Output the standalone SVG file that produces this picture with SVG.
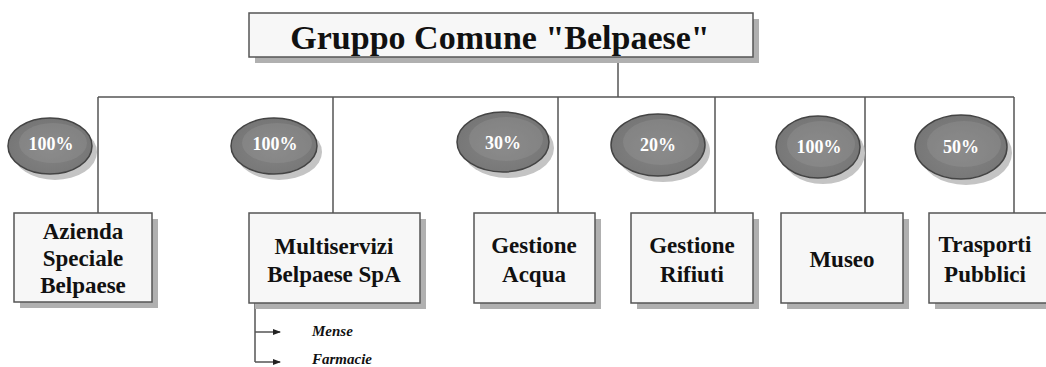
<svg xmlns="http://www.w3.org/2000/svg" width="1046" height="367" viewBox="0 0 1046 367">
<style>
.box{fill:#f7f7f7;stroke:#555;stroke-width:1.5}
.sh{fill:#b0b0b0}
.lbl{font-family:"Liberation Serif","Times New Roman",serif;font-weight:bold;font-size:23px;fill:#111;text-anchor:middle}
.pct{font-family:"Liberation Serif","Times New Roman",serif;font-weight:bold;font-size:18px;fill:#fff;text-anchor:middle}
.sub{font-family:"Liberation Serif","Times New Roman",serif;font-weight:bold;font-style:italic;font-size:15px;fill:#111}
.ln{stroke:#555;stroke-width:1.5;fill:none}
.ell{fill:url(#eg);stroke:#444;stroke-width:1.5}
.esh{fill:#c4c4c4}
.hl{fill:#999}
</style>
<defs>
<radialGradient id="eg" cx="0.5" cy="0.55" r="0.6">
<stop offset="0" stop-color="#858585"/>
<stop offset="1" stop-color="#747474"/>
</radialGradient>
<marker id="ar" markerWidth="8" markerHeight="8" refX="7" refY="4" orient="auto" markerUnits="userSpaceOnUse">
<path d="M0,1 L8,4 L0,7 Z" fill="#222"/>
</marker>
</defs>

<g id="connectors">
<line class="ln" x1="618" y1="57" x2="618" y2="97"/>
<line class="ln" x1="98" y1="97" x2="1014" y2="97"/>
<line class="ln" x1="98" y1="97" x2="98" y2="213"/>
<line class="ln" x1="333" y1="97" x2="333" y2="213"/>
<line class="ln" x1="558" y1="97" x2="558" y2="213"/>
<line class="ln" x1="715" y1="97" x2="715" y2="213"/>
<line class="ln" x1="865" y1="97" x2="865" y2="213"/>
<line class="ln" x1="1014" y1="97" x2="1014" y2="213"/>
<line class="ln" x1="255" y1="303" x2="255" y2="362"/>
<line class="ln" x1="255" y1="332" x2="280" y2="332" marker-end="url(#ar)"/>
<line class="ln" x1="255" y1="362" x2="280" y2="362" marker-end="url(#ar)"/>
</g>

<g id="title">
<rect class="sh" x="255" y="19" width="504" height="44"/>
<rect class="box" x="249" y="13" width="504" height="44"/>
<text class="lbl" x="500" y="49" style="font-size:34px">Gruppo Comune "Belpaese"</text>
</g>

<g id="p1">
<ellipse class="esh" cx="55" cy="152" rx="42" ry="28"/>
<ellipse class="ell" cx="50" cy="146" rx="42" ry="28"/>
<ellipse class="hl" cx="53" cy="143" rx="34" ry="20" opacity="0.35"/>
<text class="pct" x="51" y="150">100%</text>
</g>
<g id="p2">
<ellipse class="esh" cx="279" cy="152" rx="43" ry="28"/>
<ellipse class="ell" cx="274" cy="146" rx="43" ry="28"/>
<ellipse class="hl" cx="277" cy="143" rx="35" ry="20" opacity="0.35"/>
<text class="pct" x="275" y="150">100%</text>
</g>
<g id="p3">
<ellipse class="esh" cx="508" cy="148" rx="46" ry="30"/>
<ellipse class="ell" cx="503" cy="142" rx="46" ry="30"/>
<ellipse class="hl" cx="506" cy="139" rx="37" ry="22" opacity="0.35"/>
<text class="pct" x="503" y="149">30%</text>
</g>
<g id="p4">
<ellipse class="esh" cx="663" cy="151" rx="47" ry="31"/>
<ellipse class="ell" cx="658" cy="145" rx="47" ry="31"/>
<ellipse class="hl" cx="661" cy="142" rx="38" ry="23" opacity="0.35"/>
<text class="pct" x="658" y="151">20%</text>
</g>
<g id="p5">
<ellipse class="esh" cx="823" cy="153" rx="42" ry="31"/>
<ellipse class="ell" cx="818" cy="147" rx="42" ry="31"/>
<ellipse class="hl" cx="821" cy="144" rx="34" ry="23" opacity="0.35"/>
<text class="pct" x="819" y="153">100%</text>
</g>
<g id="p6">
<ellipse class="esh" cx="966" cy="153" rx="46" ry="32"/>
<ellipse class="ell" cx="961" cy="147" rx="46" ry="32"/>
<ellipse class="hl" cx="964" cy="144" rx="37" ry="23" opacity="0.35"/>
<text class="pct" x="961" y="153">50%</text>
</g>

<g id="azienda">
<rect class="sh" x="20" y="219" width="138" height="89"/>
<rect class="box" x="14" y="213" width="138" height="89"/>
<text class="lbl" x="83" y="239">Azienda</text>
<text class="lbl" x="83" y="266">Speciale</text>
<text class="lbl" x="83" y="293">Belpaese</text>
</g>
<g id="multiservizi">
<rect class="sh" x="255" y="219" width="171" height="90"/>
<rect class="box" x="249" y="213" width="171" height="90"/>
<text class="lbl" x="334" y="254">Multiservizi</text>
<text class="lbl" x="334" y="282">Belpaese SpA</text>
</g>
<g id="acqua">
<rect class="sh" x="480" y="219" width="121" height="90"/>
<rect class="box" x="474" y="213" width="121" height="90"/>
<text class="lbl" x="534" y="253">Gestione</text>
<text class="lbl" x="534" y="282">Acqua</text>
</g>
<g id="rifiuti">
<rect class="sh" x="637" y="219" width="122" height="90"/>
<rect class="box" x="631" y="213" width="122" height="90"/>
<text class="lbl" x="692" y="253">Gestione</text>
<text class="lbl" x="692" y="282">Rifiuti</text>
</g>
<g id="museo">
<rect class="sh" x="787" y="219" width="122" height="90"/>
<rect class="box" x="781" y="213" width="122" height="90"/>
<text class="lbl" x="842" y="267">Museo</text>
</g>
<g id="trasporti">
<rect class="sh" x="935" y="219" width="120" height="90"/>
<rect class="box" x="929" y="213" width="125" height="90"/>
<text class="lbl" x="985" y="252">Trasporti</text>
<text class="lbl" x="985" y="282">Pubblici</text>
</g>

<g id="sub">
<text class="sub" x="312" y="336">Mense</text>
<text class="sub" x="312" y="364">Farmacie</text>
</g>
</svg>
